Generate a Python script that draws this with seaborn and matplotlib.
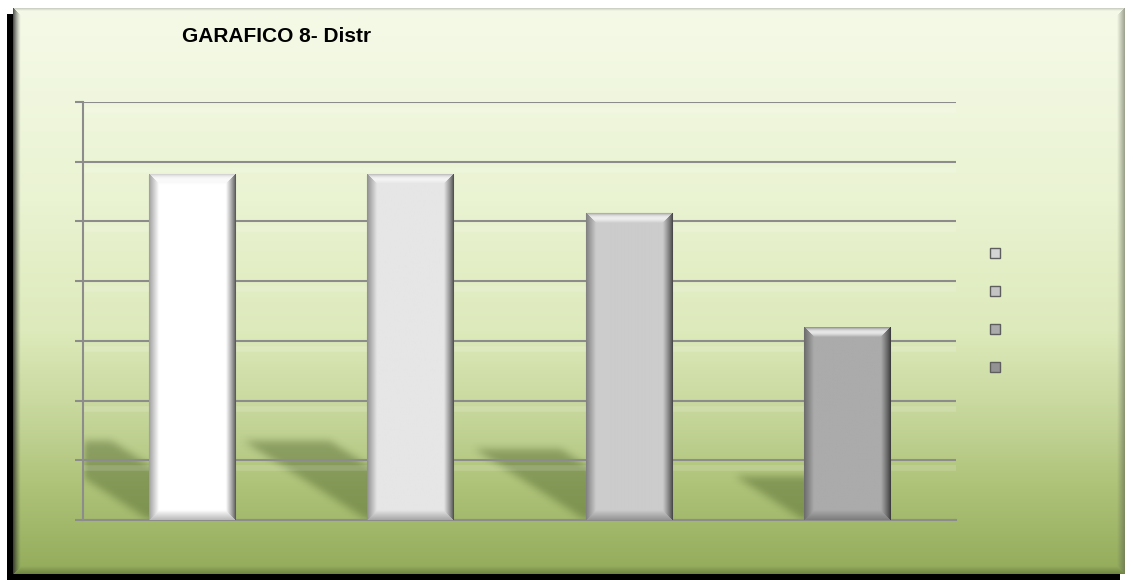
import numpy as np
import matplotlib
matplotlib.use("Agg")
import matplotlib.pyplot as plt
import matplotlib.transforms as mtransforms
from matplotlib.patches import Patch, Rectangle
import seaborn as sns

# ---- data -------------------------------------------------------------
categories = ["A", "B", "C", "D"]
values = [28.9, 28.9, 25.7, 16.1]
bar_colors = ["#FFFFFF", "#E6E6E6", "#CCCCCC", "#ABABAB"]
y_max = 35
y_step = 5
title = "GARAFICO 8- Distr"

# ---- canvas -----------------------------------------------------------
W, H, DPI = 1133, 581, 100
sns.set_theme(style="white")
plt.rcParams["font.family"] = ["Liberation Sans", "DejaVu Sans"]

fig = plt.figure(figsize=(W / DPI, H / DPI), dpi=DPI)
fig.patch.set_facecolor("white")


def fx(px):
    return px / W


def fy(py):
    return 1 - py / H


# drop shadow behind the chart panel
fig.patches.append(Rectangle((fx(7), fy(580)), fx(1120 - 7), (580 - 14) / H,
                             transform=fig.transFigure, facecolor="black",
                             edgecolor="none", zorder=-20))

# ---- chart panel: vertical green gradient with bevelled rim -----------
px0, px1, py0, py1 = 13, 1125, 8, 574
pw, ph = px1 - px0, py1 - py0
rows = np.arange(ph) + py0
stop_y = [8, 200, 330, 420, 480, 574]
stop_c = np.array([[245, 250, 232], [234, 243, 210], [221, 234, 187],
                   [196, 213, 152], [176, 196, 122], [146, 171, 90]]) / 255
col_profile = np.stack([np.interp(rows, stop_y, stop_c[:, k]) for k in range(3)], axis=1)
panel = np.repeat(col_profile[:, None, :], pw, axis=1)

yy, xx = np.mgrid[0:ph, 0:pw]
b = 8.0


def blend(img, mask_w, color):
    color = np.asarray(color) / 255
    return img * (1 - mask_w[..., None]) + color * mask_w[..., None]


dl, dr, dt, db = xx + 0.5, pw - xx - 0.5, yy + 0.5, ph - yy - 0.5
near = np.argmin(np.stack([dl, dr, dt, db]), axis=0)
w_left = np.where((near == 0) & (dl < b), 0.85 * (1 - dl / b) ** 1.3, 0)
w_right = np.where((near == 1) & (dr < b), 0.6 * (1 - dr / b), 0)
w_top = np.where((near == 2) & (dt < 3), 0.5 * (1 - dt / 3), 0)
w_bot = np.where((near == 3) & (db < b), 0.6 * (1 - db / b), 0)
panel = blend(panel, w_left, (40, 40, 40))
panel = blend(panel, w_right, (95, 100, 85))
panel = blend(panel, w_top, (150, 150, 150))
panel = blend(panel, w_bot, (85, 105, 50))

bg = fig.add_axes([fx(px0), fy(py1), pw / W, ph / H], zorder=-10)
bg.imshow(panel, aspect="auto", interpolation="nearest")
bg.set_axis_off()

# ---- plot area --------------------------------------------------------
ax_l, ax_r, ax_t, ax_b = 83, 956, 102, 520
ax = fig.add_axes([fx(ax_l), fy(ax_b), (ax_r - ax_l) / W, (ax_b - ax_t) / H], zorder=1)
ax.patch.set_alpha(0)
ax.set_axisbelow(True)

sns.barplot(x=categories, y=values, hue=categories, palette=bar_colors,
            saturation=1, width=0.395, legend=False, edgecolor="#8A8A8A",
            linewidth=0.8, ax=ax, zorder=3)

ax.set_xlim(-0.5, len(categories) - 0.5)
ax.set_ylim(0, y_max)
ticks = np.arange(0, y_max + y_step, y_step)
ax.set_yticks(ticks)
ax.yaxis.grid(True, color="#8C8C8C", linewidth=1.5)
ax.tick_params(axis="y", length=6, width=1.5, color="#8C8C8C", direction="out",
               labelleft=False, left=True)
ax.tick_params(axis="x", length=0, labelbottom=False)
ax.set_xlabel("")
ax.set_ylabel("")
for side in ("top", "right"):
    ax.spines[side].set_visible(False)
for side in ("left", "bottom"):
    ax.spines[side].set_color("#8C8C8C")
    ax.spines[side].set_linewidth(1.5)

# soft highlight just below each gridline
glow = mtransforms.offset_copy(ax.transData, fig=fig, y=-8, units="dots")
for t in ticks[1:]:
    ax.plot([-0.5, len(categories) - 0.5], [t, t], color="white", alpha=0.14,
            linewidth=4, transform=glow, zorder=0.6, solid_capstyle="butt")

# ---- cast shadows behind the bars --------------------------------------
apw, aph = ax_r - ax_l, ax_b - ax_t
unit_x = apw / len(categories)
unit_y = aph / y_max
sy, sx = np.mgrid[0:aph, 0:apw]
X = sx + 0.5
T = aph - sy - 0.5
shadow = np.zeros((aph, apw))
for p in ax.patches:
    x0 = (p.get_x() + 0.5) * unit_x
    x1 = x0 + p.get_width() * unit_x
    hpx = p.get_height() * unit_y
    hs, shift = 0.23 * hpx, 0.36 * hpx
    off = shift * T / hs
    inside = (T >= 0) & (T <= hs) & (X >= x0 - off) & (X <= x1 - off)
    shadow = np.maximum(shadow, inside.astype(float))


def box_blur(a, k):
    ker = np.ones(k) / k
    a = np.apply_along_axis(lambda r: np.convolve(r, ker, mode="same"), 1, a)
    a = np.apply_along_axis(lambda c: np.convolve(c, ker, mode="same"), 0, a)
    return a


shadow = box_blur(box_blur(shadow, 9), 9)
shadow_rgba = np.zeros((aph, apw, 4))
shadow_rgba[..., 0] = 55 / 255
shadow_rgba[..., 1] = 75 / 255
shadow_rgba[..., 2] = 25 / 255
shadow_rgba[..., 3] = 0.36 * shadow
ax.imshow(shadow_rgba, extent=[-0.5, len(categories) - 0.5, 0, y_max],
          aspect="auto", interpolation="bilinear", zorder=0.4)

# ---- bevelled faces on the bars ----------------------------------------
bev = 10.0
for p in ax.patches:
    wpx = int(round(p.get_width() * unit_x))
    hpx = int(round(p.get_height() * unit_y))
    base = np.array(p.get_facecolor()[:3])
    r, c = np.mgrid[0:hpx, 0:wpx]
    d = np.stack([c + 0.5, wpx - c - 0.5, r + 0.5, hpx - r - 0.5])
    k = np.argmin(d, axis=0)
    dm = np.clip(np.min(d, axis=0) / bev, 0, 1)
    fac = np.ones((hpx, wpx))
    fac = np.where(k == 0, 0.62 + 0.38 * dm, fac)
    fac = np.where(k == 1, 0.30 + 0.70 * dm ** 0.8, fac)
    fac = np.where(k == 2, 0.80 + 0.20 * dm, fac)
    fac = np.where(k == 3, 0.72 + 0.28 * dm, fac)
    img = base * fac[..., None]
    hl = np.where(k == 2, 0.75 * np.sin(np.pi * dm), 0.0)
    img = img * (1 - hl[..., None]) + hl[..., None]
    img = np.clip(img, 0, 1)
    x = p.get_x()
    ax.imshow(img, extent=[x, x + p.get_width(), 0, p.get_height()],
              aspect="auto", interpolation="bilinear", zorder=3.5)

ax.set_xlim(-0.5, len(categories) - 0.5)
ax.set_ylim(0, y_max)

# ---- title and legend --------------------------------------------------
fig.text(fx(182), fy(37), title, fontsize=15, fontweight="bold",
         ha="left", va="center", color="black")

legend_faces = ["#D4D4D4", "#C4C4C4", "#ABABAB", "#939393"]
handles = [Patch(facecolor=c, edgecolor="#5E5E5E", linewidth=1.0) for c in legend_faces]
fig.legend(handles, [""] * len(handles), loc="center left",
           bbox_to_anchor=(fx(990), fy(311)), frameon=False, fontsize=10,
           handlelength=0.72, handleheight=0.72, handletextpad=0.2,
           labelspacing=1.73, borderpad=0, borderaxespad=0)

fig.savefig("out.png", dpi=DPI)
